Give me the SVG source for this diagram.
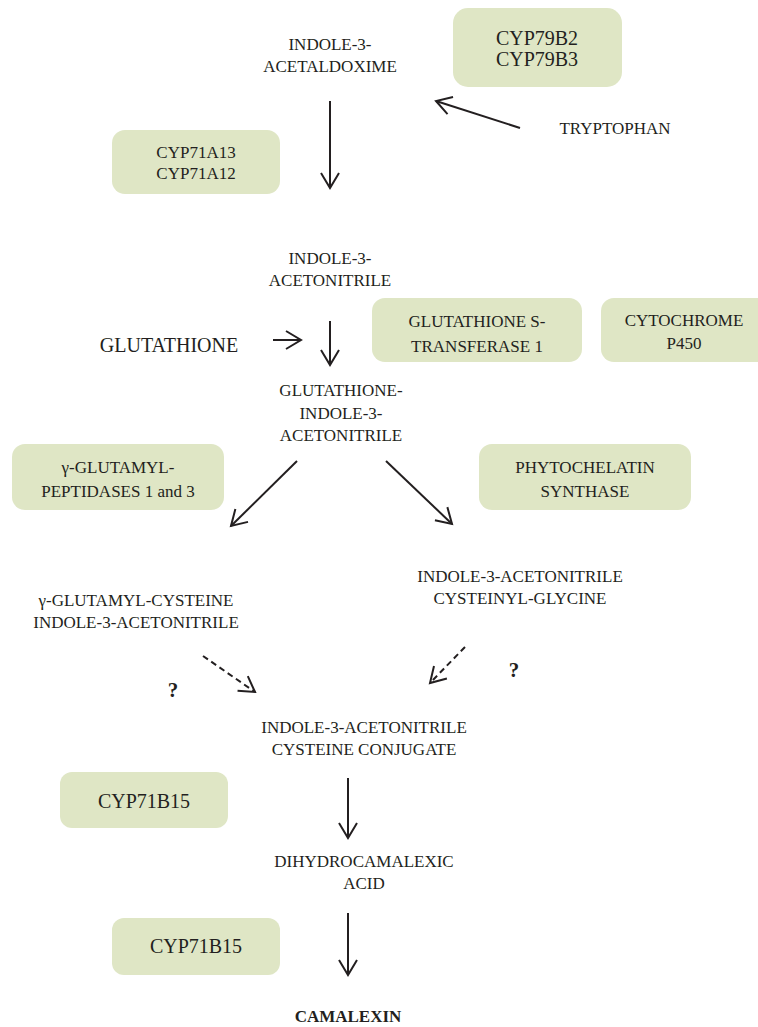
<svg xmlns="http://www.w3.org/2000/svg" width="758" height="1027" viewBox="0 0 758 1027">
<style>
  .box { fill: #dfe6c5; stroke: none; }
  .t { font-family: "Liberation Serif", "Times New Roman", serif; fill: #231f20; text-anchor: middle; }
  .p { font-size: 17px; }
  .e { font-size: 17px; }
  .e20 { font-size: 20px; }
  .b { font-weight: bold; }
  .arr { stroke: #231f20; stroke-width: 2; fill: none; marker-end: url(#ah); }
  .dash { stroke-dasharray: 6 4; }
</style>
<defs>
  <marker id="ah" markerUnits="userSpaceOnUse" markerWidth="20" markerHeight="22" refX="17" refY="11" orient="auto" viewBox="0 0 20 22">
    <path d="M2,2 L17,11 L2,20" fill="none" stroke="#231f20" stroke-width="2" stroke-linejoin="miter"/>
  </marker>
</defs>
<rect width="758" height="1027" fill="#ffffff"/>

<g id="connectors">
  <line class="arr" x1="520" y1="128" x2="436" y2="101"/>
  <line class="arr" x1="330" y1="101" x2="330" y2="188"/>
  <line class="arr" x1="273" y1="340" x2="301" y2="340"/>
  <line class="arr" x1="330" y1="321" x2="330" y2="365"/>
  <line class="arr" x1="297" y1="461" x2="231" y2="526"/>
  <line class="arr" x1="386" y1="461" x2="452" y2="524"/>
  <line class="arr dash" x1="203" y1="656" x2="255" y2="692"/>
  <line class="arr dash" x1="465" y1="647" x2="430" y2="683"/>
  <line class="arr" x1="348" y1="778" x2="348" y2="838"/>
  <line class="arr" x1="348" y1="913" x2="348" y2="975"/>
</g>

<g id="indole-3-acetaldoxime">
  <text class="t p" x="330" y="50">INDOLE-3-</text>
  <text class="t p" x="330" y="72">ACETALDOXIME</text>
</g>
<g id="cyp79b">
  <rect class="box" x="453" y="8" width="169" height="79" rx="15"/>
  <text class="t e20" x="537" y="45">CYP79B2</text>
  <text class="t e20" x="537" y="66">CYP79B3</text>
</g>
<g id="tryptophan">
  <text class="t p" x="615" y="134">TRYPTOPHAN</text>
</g>
<g id="cyp71a">
  <rect class="box" x="112" y="130" width="168" height="64" rx="13"/>
  <text class="t e" x="196" y="158">CYP71A13</text>
  <text class="t e" x="196" y="179">CYP71A12</text>
</g>
<g id="indole-3-acetonitrile">
  <text class="t p" x="330" y="264">INDOLE-3-</text>
  <text class="t p" x="330" y="286">ACETONITRILE</text>
</g>
<g id="glutathione">
  <text class="t e20" x="169" y="352">GLUTATHIONE</text>
</g>
<g id="gst1">
  <rect class="box" x="372" y="298" width="210" height="64" rx="13"/>
  <text class="t e" x="477" y="327">GLUTATHIONE S-</text>
  <text class="t e" x="477" y="352">TRANSFERASE 1</text>
</g>
<g id="cytochrome">
  <rect class="box" x="601" y="298" width="170" height="64" rx="13"/>
  <text class="t e" x="684" y="326">CYTOCHROME</text>
  <text class="t e" x="684" y="349">P450</text>
</g>
<g id="glutathione-iaN">
  <text class="t p" x="341" y="396">GLUTATHIONE-</text>
  <text class="t p" x="341" y="419">INDOLE-3-</text>
  <text class="t p" x="341" y="441">ACETONITRILE</text>
</g>
<g id="ggp">
  <rect class="box" x="12" y="444" width="212" height="66" rx="13"/>
  <text class="t e" x="118" y="473">γ-GLUTAMYL-</text>
  <text class="t e" x="118" y="497">PEPTIDASES 1 and 3</text>
</g>
<g id="pcs">
  <rect class="box" x="479" y="444" width="212" height="66" rx="13"/>
  <text class="t e" x="585" y="473">PHYTOCHELATIN</text>
  <text class="t e" x="585" y="497">SYNTHASE</text>
</g>
<g id="ggc-ian">
  <text class="t p" x="136" y="606">γ-GLUTAMYL-CYSTEINE</text>
  <text class="t p" x="136" y="628">INDOLE-3-ACETONITRILE</text>
</g>
<g id="ian-cysgly">
  <text class="t p" x="520" y="582">INDOLE-3-ACETONITRILE</text>
  <text class="t p" x="520" y="604">CYSTEINYL-GLYCINE</text>
</g>
<g id="q1"><text class="t b" style="font-size:21px" x="173" y="697">?</text></g>
<g id="q2"><text class="t b" style="font-size:21px" x="514" y="677">?</text></g>
<g id="ian-cys">
  <text class="t p" x="364" y="733">INDOLE-3-ACETONITRILE</text>
  <text class="t p" x="364" y="755">CYSTEINE CONJUGATE</text>
</g>
<g id="cyp71b15-1">
  <rect class="box" x="60" y="772" width="168" height="56" rx="12"/>
  <text class="t e20" x="144" y="808">CYP71B15</text>
</g>
<g id="dihydrocamalexic">
  <text class="t p" x="364" y="867">DIHYDROCAMALEXIC</text>
  <text class="t p" x="364" y="889">ACID</text>
</g>
<g id="cyp71b15-2">
  <rect class="box" x="112" y="918" width="168" height="57" rx="12"/>
  <text class="t e20" x="196" y="953">CYP71B15</text>
</g>
<g id="camalexin">
  <text class="t p b" x="348" y="1022">CAMALEXIN</text>
</g>
</svg>
